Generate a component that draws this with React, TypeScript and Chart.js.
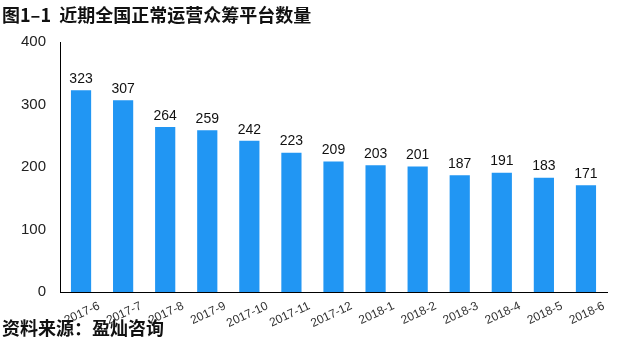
import React, { useEffect, useRef } from "react";
import { Chart, registerables } from "chart.js";

Chart.register(...registerables);

const categories = [
  "2017-6", "2017-7", "2017-8", "2017-9", "2017-10", "2017-11", "2017-12",
  "2018-1", "2018-2", "2018-3", "2018-4", "2018-5", "2018-6",
];
const platformCounts = [323, 307, 264, 259, 242, 223, 209, 203, 201, 187, 191, 183, 171];
const yTicks = [0, 100, 200, 300, 400];

const titleText = "图1–1  近期全国正常运营众筹平台数量";
const sourceText = "资料来源：盈灿咨询";

const valueLabels = {
  id: "valueLabels",
  afterDatasetsDraw(chart: any) {
    const ctx = chart.ctx;
    const meta = chart.getDatasetMeta(0);
    ctx.save();
    ctx.font = "14px 'Liberation Sans', Arial, sans-serif";
    ctx.fillStyle = "#111";
    ctx.textAlign = "center";
    ctx.textBaseline = "bottom";
    meta.data.forEach((bar: any, i: number) => {
      ctx.fillText(String(chart.data.datasets[0].data[i]), bar.x, bar.y - 4);
    });
    ctx.restore();
  },
};

export default function App() {
  const ref = useRef<HTMLCanvasElement | null>(null);

  useEffect(() => {
    if (!ref.current) return;
    const chart = new Chart(ref.current, {
      type: "bar",
      data: {
        labels: categories,
        datasets: [
          {
            data: platformCounts,
            backgroundColor: "#2196F3",
            barPercentage: 0.48,
            categoryPercentage: 1,
          },
        ],
      },
      options: {
        animation: false,
        responsive: false,
        maintainAspectRatio: false,
        layout: { padding: { top: 42, right: 33, left: 0, bottom: 0 } },
        plugins: {
          legend: { display: false },
          tooltip: { enabled: false },
          title: { display: false },
        },
        scales: {
          x: {
            grid: { display: false, drawTicks: false },
            border: { display: true, color: "#000", width: 1 },
            ticks: {
              minRotation: 25,
              maxRotation: 25,
              padding: 7,
              labelOffset: 18,
              color: "#333",
              font: { size: 12, family: "'Liberation Sans', Arial, sans-serif" },
              autoSkip: false,
            },
            afterFit: (scale: any) => {
              scale.height = 64;
            },
          },
          y: {
            min: 0,
            max: 400,
            afterBuildTicks: (scale: any) => {
              scale.ticks = yTicks.map((v) => ({ value: v }));
            },
            grid: { display: false, drawTicks: false },
            border: { display: true, color: "#000", width: 1 },
            ticks: {
              padding: 14,
              color: "#222",
              font: { size: 15, family: "'Liberation Sans', Arial, sans-serif" },
            },
            afterFit: (scale: any) => {
              scale.width = 60;
            },
          },
        },
      },
      plugins: [valueLabels],
    });
    return () => chart.destroy();
  }, []);

  return (
    <div
      style={{
        position: "fixed",
        left: 0,
        top: 0,
        width: 640,
        height: 356,
        background: "#fff",
        overflow: "hidden",
      }}
    >
      <canvas
        ref={ref}
        width={640}
        height={356}
        style={{ position: "absolute", left: 0, top: 0, width: 640, height: 356 }}
      />
      <div
        style={{
          position: "absolute",
          left: 2,
          top: 4,
          fontFamily: "'Noto Sans CJK SC', sans-serif",
          fontWeight: 700,
          fontSize: 18,
          lineHeight: "20px",
          color: "#111",
          whiteSpace: "pre",
        }}
      >
        {titleText}
      </div>
      <div
        style={{
          position: "absolute",
          left: 2,
          top: 317,
          fontFamily: "'Noto Sans CJK SC', sans-serif",
          fontWeight: 700,
          fontSize: 18,
          lineHeight: "20px",
          color: "#111",
          whiteSpace: "pre",
        }}
      >
        {sourceText}
      </div>
    </div>
  );
}
